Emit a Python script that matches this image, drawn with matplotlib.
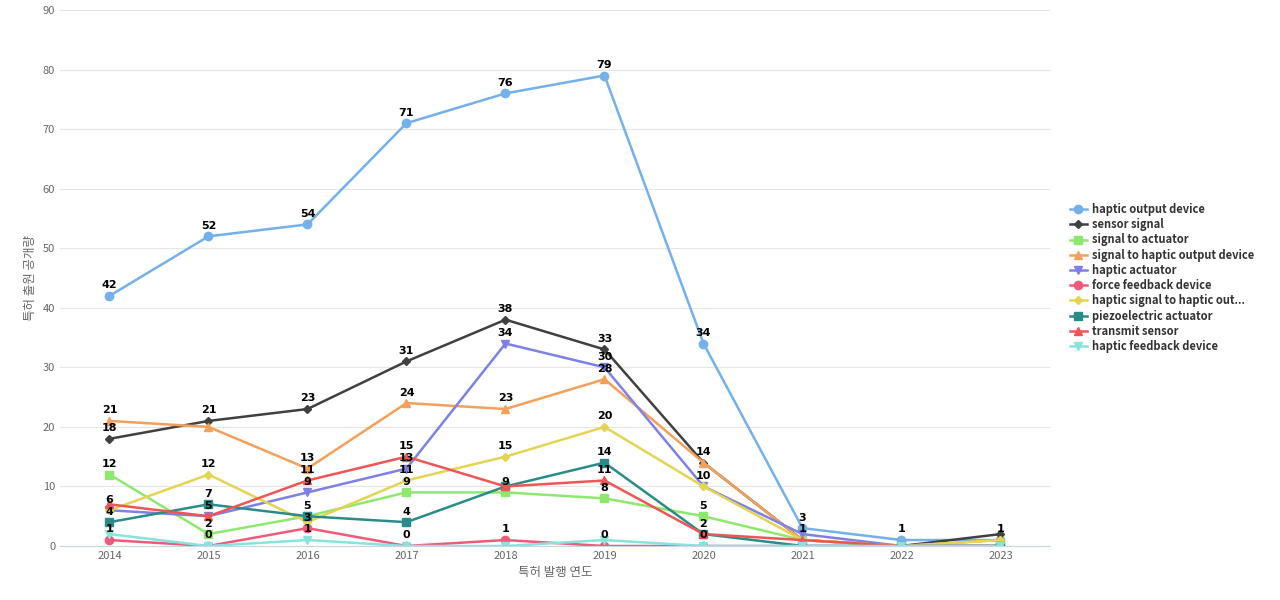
import matplotlib.pyplot as plt

plt.rcParams['font.family'] = ['Noto Sans CJK JP', 'Noto Sans CJK KR', 'Noto Sans CJK SC', 'DejaVu Sans']

years = [2014, 2015, 2016, 2017, 2018, 2019, 2020, 2021, 2022, 2023]
names = ["haptic output device", "sensor signal", "signal to actuator",
         "signal to haptic output device", "haptic actuator", "force feedback device",
         "haptic signal to haptic out...", "piezoelectric actuator", "transmit sensor",
         "haptic feedback device"]
haptic_output = [42, 52, 54, 71, 76, 79, 34, 3, 1, 1]
sensor_signal = [18, 21, 23, 31, 38, 33, 14, 1, 0, 2]
signal_actuator = [12, 2, 5, 9, 9, 8, 5, 1, 0, 0]
signal_haptic_output = [21, 20, 13, 24, 23, 28, 14, 1, 0, 1]
haptic_actuator = [6, 5, 9, 13, 34, 30, 10, 2, 0, 0]
force_feedback = [1, 0, 3, 0, 1, 0, 0, 0, 0, 0]
haptic_signal = [6, 12, 4, 11, 15, 20, 10, 1, 0, 1]
piezo = [4, 7, 5, 4, 10, 14, 2, 0, 0, 0]
transmit = [7, 5, 11, 15, 10, 11, 2, 1, 0, 0]
haptic_feedback = [2, 0, 1, 0, 0, 1, 0, 0, 0, 0]
series = [haptic_output, sensor_signal, signal_actuator, signal_haptic_output,
          haptic_actuator, force_feedback, haptic_signal, piezo, transmit, haptic_feedback]

colors = ['#74b0ea', '#404040', '#8ee86e', '#f4a05a', '#7f80e6',
          '#ef5a7a', '#e4d454', '#2a8c88', '#ee5656', '#86e4dc']
markers = ['o', 'D', 's', '^', 'v', 'o', 'D', 's', '^', 'v']
msizes = [6, 4, 6, 6, 6, 6, 4, 6, 6, 6]

fig = plt.figure(figsize=(12.8, 6), dpi=100)
ax = fig.add_axes([60/1280, 54/600, 990/1280, 536/600])

placed = {}  # year -> list of label y values already drawn
for vals, name, c, m, ms in zip(series, names, colors, markers, msizes):
    ax.plot(years, vals, color=c, marker=m, markersize=ms, linewidth=1.8, label=name)
for vals in series:
    for x, y in zip(years, vals):
        used = placed.setdefault(x, [])
        if any(abs(y - u) < 1.6 for u in used):
            continue
        used.append(y)
        ax.annotate(str(y), (x, y), xytext=(0, 4), textcoords='offset points',
                    ha='center', va='bottom', fontsize=8, fontweight='bold',
                    family='DejaVu Sans')

ax.set_xlim(2013.5, 2023.5)
ax.set_ylim(0, 90)
ax.set_xticks(years)
ax.set_yticks(range(0, 91, 10))
ax.tick_params(length=0, labelsize=8, colors='#666666')
ax.grid(axis='y', color='#e6e6e6', linewidth=0.8)
ax.set_axisbelow(True)
for s in ['top', 'right', 'left']:
    ax.spines[s].set_visible(False)
ax.spines['bottom'].set_color('#c8d4ea')
ax.set_xlabel("특허 발행 연도", fontsize=9, color='#666666')
ax.set_ylabel("특허 출원 공개량", fontsize=9, color='#666666')

leg = ax.legend(loc='center left', bbox_to_anchor=(1.01, 0.5), frameon=False,
                fontsize=8, handlelength=1.5, labelspacing=0.2, handletextpad=0.5,
                borderaxespad=0.5)
for t in leg.get_texts():
    t.set_fontweight('bold')
    t.set_color('#333333')

fig.savefig('out.png', dpi=100)
